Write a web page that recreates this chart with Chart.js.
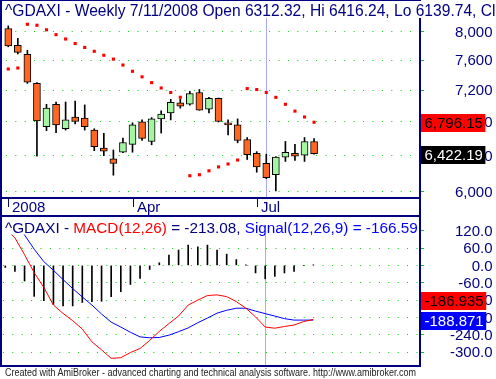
<!DOCTYPE html>
<html>
<head>
<meta charset="utf-8">
<script src="https://cdn.jsdelivr.net/npm/chart.js@4.4.1/dist/chart.umd.min.js"></script>
<style>
  html, body { margin: 0; padding: 0; background: #fff; }
  body { width: 496px; height: 379px; overflow: hidden; position: relative; font-family: 'Liberation Sans', Arial, sans-serif; }
  #priceBox { position: absolute; left: 0; top: 0; width: 496px; height: 216px; }
  #macdBox { position: absolute; left: 0; top: 216px; width: 496px; height: 151px; }
  #footer { position: absolute; left: 5px; top: 366px; font-size: 10px; line-height: 13px; color: #222; white-space: nowrap; transform-origin: 0 0; }
</style>
</head>
<body>
<div id="priceBox"><canvas id="priceChart"></canvas></div>
<div id="macdBox"><canvas id="macdChart"></canvas></div>
<div id="footer">Created with AmiBroker - advanced charting and technical analysis software. http://www.amibroker.com</div>
<script>
// weekly bars, ^GDAXI 2008
const weeks = ['1/4/2008', '1/11/2008', '1/18/2008', '1/25/2008', '2/1/2008', '2/8/2008', '2/15/2008', '2/22/2008',
    '2/29/2008', '3/7/2008', '3/14/2008', '3/20/2008', '3/28/2008', '4/4/2008', '4/11/2008', '4/18/2008', '4/25/2008',
    '5/2/2008', '5/9/2008', '5/16/2008', '5/23/2008', '5/30/2008', '6/6/2008', '6/13/2008', '6/20/2008', '6/27/2008',
    '7/4/2008', '7/11/2008', '7/18/2008', '7/25/2008', '8/1/2008', '8/8/2008', '8/15/2008'];

const openP = [8047, 7805, 7682, 7289, 6741, 7020, 6717, 6861, 6847, 6701, 6488, 6363, 6439, 6530, 6801, 6565, 6837,
    6910, 7037, 7020, 7171, 6959, 7096, 6789, 6765, 6588, 6427, 6312.32, 6183, 6382, 6427, 6405, 6565];
const highP = [8085, 7905, 7737, 7300, 7020, 7049, 7049, 7061, 7012, 6717, 6662, 6465, 6604, 6789, 6825, 6853, 6938,
    7083, 7083, 7187, 7209, 7108, 7100, 6825, 6837, 6612, 6446, 6416.24, 6390, 6565, 6530, 6612, 6600];
const lowP = [7786, 7686, 7289, 6394, 6694, 6670, 6701, 6777, 6701, 6457, 6400, 6178, 6435, 6439, 6577, 6526, 6665,
    6825, 6971, 7008, 6945, 6910, 6800, 6642, 6549, 6355, 6211, 6139.74, 6006, 6333, 6344, 6333, 6416];
const closeP = [7799, 7709, 7306, 6813, 6971, 6765, 6825, 6805, 6741, 6503, 6450, 6311, 6553, 6765, 6600, 6837, 6898,
    7045, 6996, 7158, 6947, 7096, 6805, 6765, 6577, 6412, 6271, 6150, 6382, 6439, 6394, 6565, 6422.19];

// parabolic SAR dots
const sar = [7481, 7494, 8108, 8094, 8028, 7958, 7896, 7832, 7777, 7723, 7668, 7615, 7534, 7450, 7376, 7299, 7229,
    7171, 7109, 6172, 6183, 6227, 6271, 6304, 6349, 7221, 7209, 7171, 7108, 7020, 6934, 6861, 6796.15];

// MACD pane
const macd = [129, 95, 37, -25, -76, -137, -166, -191, -220, -264, -292, -321, -319, -301, -287, -259, -228,
    -201, -175, -137, -120, -104, -102, -108, -125, -148, -178, -213.08, -217, -211, -206, -194, -186.935];
const signal = [190, 150, 105, 56, 13, -17, -49, -80, -109, -137, -168, -196, -213, -231, -247, -250, -249,
    -241, -229, -216, -198, -182, -165, -155, -148, -148, -158, -166.59, -175, -184, -189, -189, -188.871];
const hist = [-7, -21, -54, -107, -122, -135, -140, -140, -128, -125, -124, -108, -91, -66, -45, -14, 9,
    36, 53, 70, 64, 70, 53, 39, 20, 1, -26, -46.49, -38, -26, -21, 0, 1.94];

const priceTicks = [6000, 6400, 6800, 7200, 7600, 8000];
const macdTicks = [120, 60, 0, -60, -120, -180, -240, -300];
const dateTickIdx = [0, 13, 26];
const dateTickText = ['2008', 'Apr', 'Jul'];
const cursorIdx = 27;

const navy = '#000080';
const dotGreen = '#00d000';
const FONT = '15px "Liberation Sans", Arial, sans-serif';
const X_MIN = -0.447, X_MAX = 42.98;
const LABEL_RIGHT = 492.5;

const fmt0 = v => v.toLocaleString('en-US');
const fmt2 = v => v.toLocaleString('en-US', { minimumFractionDigits: 2, maximumFractionDigits: 2 });

function valueBox(ctx, text, cy, bg, fg) {
    ctx.font = FONT;
    const w = ctx.measureText(text).width;
    ctx.fillStyle = bg;
    ctx.fillRect(421, Math.round(cy - 9), w + 6, 18);
    ctx.fillStyle = fg;
    ctx.textAlign = 'left';
    ctx.textBaseline = 'middle';
    ctx.fillText(text, 424.5, cy + 1);
}

function drawCursor(chart) {
    const { ctx, chartArea: a, scales: { x } } = chart;
    const cx = Math.round(x.getPixelForValue(cursorIdx)) + 0.5;
    ctx.save();
    ctx.strokeStyle = '#a8a8ff';
    ctx.lineWidth = 1;
    ctx.beginPath();
    ctx.moveTo(cx, a.top);
    ctx.lineTo(cx, a.bottom);
    ctx.stroke();
    ctx.restore();
}

const priceDecor = {
    id: 'priceDecor',
    beforeDatasetsDraw: drawCursor,
    afterDraw(chart) {
        const { ctx, chartArea: a, scales: { x, y } } = chart;
        ctx.save();
        // frame
        ctx.fillStyle = navy;
        ctx.fillRect(0, 0, a.right + 2, 1);
        ctx.fillRect(0, 0, 2, 216);
        ctx.fillRect(a.right, 0, 2, 216);
        ctx.fillRect(0, a.bottom, a.right + 2, 2);
        ctx.fillRect(0, 215, a.right + 2, 1);

        // date axis
        ctx.font = FONT;
        ctx.textAlign = 'left';
        ctx.textBaseline = 'alphabetic';
        dateTickIdx.forEach((idx, k) => {
            const px = Math.round(x.getPixelForValue(idx));
            ctx.fillRect(px, a.bottom, 1, 10);
            ctx.fillText(dateTickText[k], px + 4, a.bottom + 15);
        });

        // price labels
        ctx.textAlign = 'right';
        ctx.textBaseline = 'middle';
        priceTicks.forEach(v => {
            ctx.fillText(fmt0(v), LABEL_RIGHT, y.getPixelForValue(v) + 1);
        });

        // last values
        const last = weeks.length - 1;
        valueBox(ctx, fmt2(sar[last]), y.getPixelForValue(sar[last]) + 1, '#ff0000', '#000000');
        valueBox(ctx, fmt2(closeP[last]), y.getPixelForValue(closeP[last]) + 1, '#000000', '#ffffff');

        // title
        const i = cursorIdx;
        const title = '^GDAXI - Weekly ' + weeks[i] + ' Open ' + openP[i].toFixed(2) + ', Hi ' + highP[i].toFixed(2) +
            ', Lo ' + lowP[i].toFixed(2) + ', Close ' + closeP[i].toFixed(2);
        ctx.font = '15.6px "Liberation Sans", Arial, sans-serif';
        const tw = ctx.measureText(title).width;
        ctx.fillStyle = '#ffffff';
        ctx.fillRect(2, 1, tw + 6, 17);
        ctx.fillStyle = navy;
        ctx.textAlign = 'left';
        ctx.textBaseline = 'alphabetic';
        ctx.fillText(title, 5, 16);
        ctx.restore();
    }
};

const macdDecor = {
    id: 'macdDecor',
    beforeDatasetsDraw: drawCursor,
    afterDraw(chart) {
        const { ctx, chartArea: a, scales: { y } } = chart;
        const H = chart.height;
        ctx.save();
        ctx.fillStyle = navy;
        ctx.fillRect(0, 0, a.right + 2, 1);
        ctx.fillRect(0, 0, 2, H);
        ctx.fillRect(a.right, 0, 2, H);
        ctx.fillRect(0, H - 2, a.right + 2, 2);

        ctx.font = FONT;
        ctx.textAlign = 'right';
        ctx.textBaseline = 'middle';
        macdTicks.forEach(v => {
            ctx.fillText(v.toFixed(1), LABEL_RIGHT, y.getPixelForValue(v) + 1);
        });

        const last = weeks.length - 1;
        const ySig = y.getPixelForValue(signal[last]) + 1;
        let yMacd = y.getPixelForValue(macd[last]) + 1;
        if (Math.abs(yMacd - ySig) < 20) yMacd = ySig - 20.5;
        valueBox(ctx, macd[last].toFixed(3), yMacd, '#ff0000', '#000000');
        valueBox(ctx, signal[last].toFixed(3), ySig, '#0000ff', '#ffffff');

        // title
        const i = cursorIdx;
        const parts = [
            ['^GDAXI - ', navy],
            ['MACD(12,26)', '#ff0000'],
            [' = ' + macd[i].toFixed(2) + ', ', navy],
            ['Signal(12,26,9) = ' + signal[i].toFixed(2), '#0000ff']
        ];
        ctx.font = '15.3px "Liberation Sans", Arial, sans-serif';
        const tw = parts.reduce((s, p) => s + ctx.measureText(p[0]).width, 0);
        ctx.fillStyle = '#ffffff';
        ctx.fillRect(2, 1, tw + 4, 17.5);
        ctx.textAlign = 'left';
        ctx.textBaseline = 'alphabetic';
        let tx = 5;
        parts.forEach(p => {
            ctx.fillStyle = p[1];
            ctx.fillText(p[0], tx, 16.5);
            tx += ctx.measureText(p[0]).width;
        });
        ctx.restore();
    }
};

const bodyData = weeks.map((w, i) => ({ x: i, y: [openP[i], closeP[i]] }));
const wickData = weeks.map((w, i) => ({ x: i, y: [lowP[i], highP[i]] }));
const sarData = weeks.map((w, i) => ({ x: i, y: sar[i] }));

new Chart(document.getElementById('priceChart'), {
    type: 'bar',
    data: {
        datasets: [
            {
                type: 'line', data: sarData, showLine: false, pointStyle: 'rect', pointRadius: 2.2,
                pointBackgroundColor: '#ff0000', pointBorderWidth: 0, order: 0
            },
            {
                data: bodyData, grouped: false, barThickness: 7, order: 1,
                backgroundColor: ctx => closeP[ctx.dataIndex] < openP[ctx.dataIndex] ? '#ff6622' : '#a4f4a4',
                borderColor: '#000000', borderWidth: 1, borderSkipped: false
            },
            { data: wickData, grouped: false, barThickness: 1, order: 2, backgroundColor: '#000000' }
        ]
    },
    options: {
        responsive: true,
        maintainAspectRatio: false,
        animation: false,
        devicePixelRatio: 1,
        layout: { padding: { left: 1, top: 0, right: 0, bottom: 19 } },
        plugins: { legend: { display: false }, tooltip: { enabled: false } },
        scales: {
            x: { type: 'linear', min: X_MIN, max: X_MAX, offset: false, display: false },
            y: {
                type: 'logarithmic', position: 'right', min: 5940, max: 8410, bounds: 'data',
                afterBuildTicks: s => { s.ticks = priceTicks.map(v => ({ value: v })); },
                afterFit: s => { s.width = 77; },
                ticks: { display: false },
                grid: { color: dotGreen, lineWidth: 1, tickLength: 5, tickColor: dotGreen, tickBorderDash: [] },
                border: { display: false, dash: [1, 8.4], dashOffset: 7.5 }
            }
        }
    },
    plugins: [priceDecor]
});

const macdData = weeks.map((w, i) => ({ x: i, y: macd[i] }));
const signalData = weeks.map((w, i) => ({ x: i, y: signal[i] }));
const histData = weeks.map((w, i) => ({ x: i, y: hist[i] }));

new Chart(document.getElementById('macdChart'), {
    type: 'bar',
    data: {
        datasets: [
            { type: 'line', data: macdData, borderColor: '#ff0000', borderWidth: 1, pointRadius: 0, tension: 0, order: 0 },
            { type: 'line', data: signalData, borderColor: '#0000ff', borderWidth: 1, pointRadius: 0, tension: 0, order: 1 },
            { data: histData, barThickness: 1, backgroundColor: '#000000', order: 2 }
        ]
    },
    options: {
        responsive: true,
        maintainAspectRatio: false,
        animation: false,
        devicePixelRatio: 1,
        layout: { padding: { left: 1, top: 0, right: 0, bottom: 2 } },
        plugins: { legend: { display: false }, tooltip: { enabled: false } },
        scales: {
            x: { type: 'linear', min: X_MIN, max: X_MAX, offset: false, display: false },
            y: {
                type: 'linear', position: 'right', min: -344.1, max: 170.6, bounds: 'data',
                afterBuildTicks: s => { s.ticks = macdTicks.map(v => ({ value: v })); },
                afterFit: s => { s.width = 77; },
                ticks: { display: false },
                grid: { color: dotGreen, lineWidth: 1, tickLength: 5, tickColor: dotGreen, tickBorderDash: [] },
                border: { display: false, dash: [1, 8.4], dashOffset: 7.5 }
            }
        }
    },
    plugins: [macdDecor]
});

// footer text squeezed to the width used by the original
const footer = document.getElementById('footer');
footer.style.transform = 'scaleX(' + (411 / footer.offsetWidth) + ')';
</script>
</body>
</html>
